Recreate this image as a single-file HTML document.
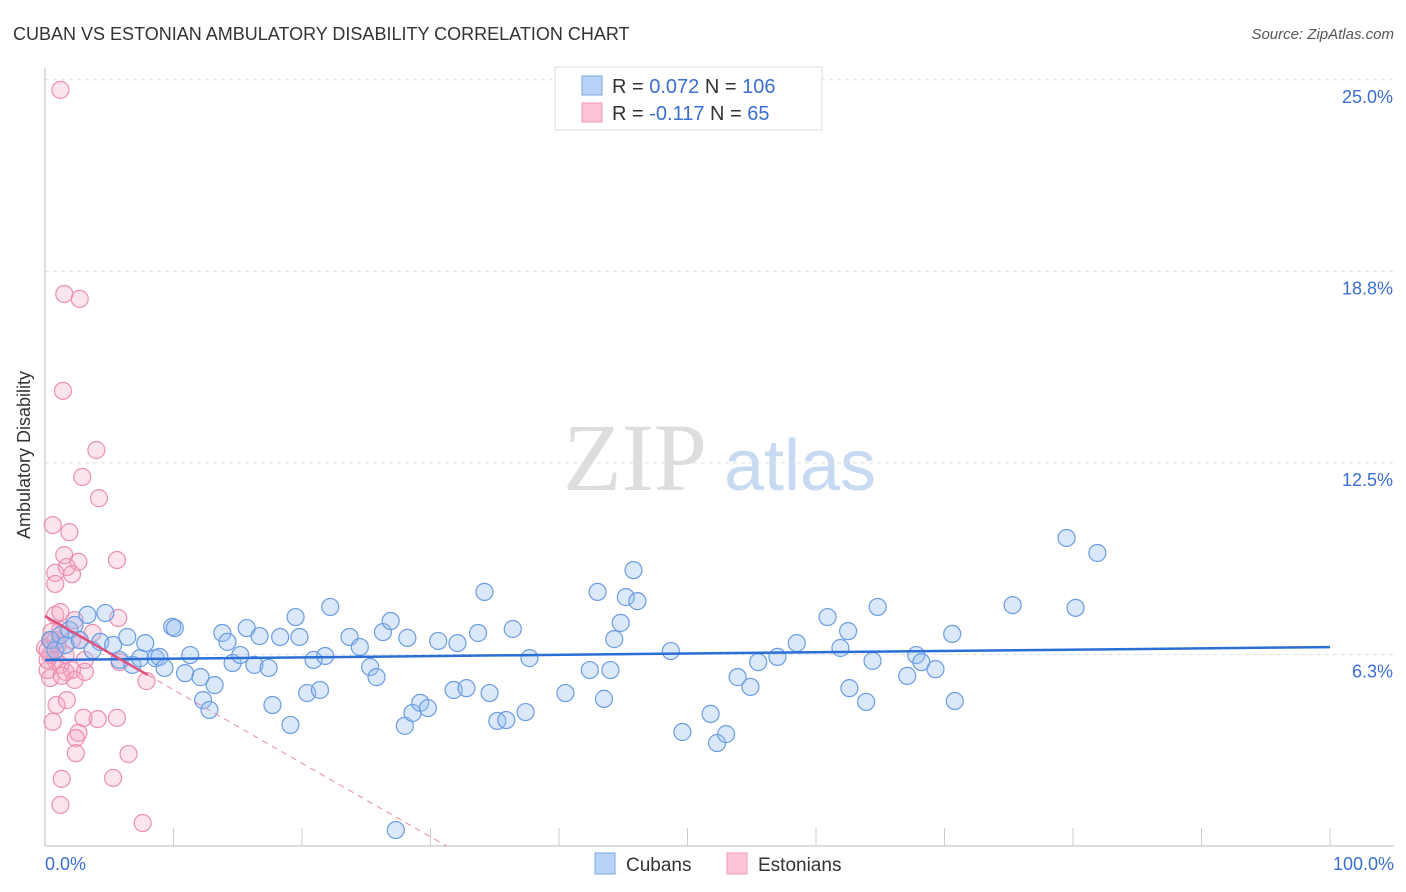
<!DOCTYPE html>
<html><head><meta charset="utf-8"><style>
body{margin:0;background:#fff;font-family:"Liberation Sans",sans-serif}
svg{display:block}
</style></head><body>
<svg id="chart" width="1406" height="892" font-family="Liberation Sans, sans-serif">
<text x="13" y="40" font-size="18" fill="#333">CUBAN VS ESTONIAN AMBULATORY DISABILITY CORRELATION CHART</text>
<text x="1394" y="39" font-size="15" fill="#555" font-style="italic" text-anchor="end">Source: ZipAtlas.com</text>
<text x="30" y="455" font-size="18" fill="#333" text-anchor="middle" transform="rotate(-90 30 455)">Ambulatory Disability</text>
<g><text x="635" y="490" font-size="96" font-family="Liberation Serif, serif" fill="#ddd" text-anchor="middle">ZIP</text><text x="800" y="490" font-size="72" fill="#c8daf2" text-anchor="middle">atlas</text></g>
<g id="grid"></g><g id="axes"></g><g id="marks"></g>
<g>
<rect x="555" y="67" width="267" height="63" fill="#fff" stroke="#ddd"/>
<rect x="582" y="76" width="20" height="19" fill="#b8d3f5" stroke="#7aa8e6"/>
<rect x="582" y="103" width="20" height="19" fill="#fcc5d6" stroke="#ee9ab6"/>
<text x="612" y="93" font-size="20" fill="#333">R = <tspan fill="#3a6fd0">0.072</tspan>   N = <tspan fill="#3a6fd0">106</tspan></text>
<text x="612" y="120" font-size="20" fill="#333">R = <tspan fill="#3a6fd0">-0.117</tspan>   N =   <tspan fill="#3a6fd0">65</tspan></text>
</g>
<g>
<rect x="595" y="853" width="20" height="21" fill="#b8d3f5" stroke="#7aa8e6"/>
<text x="626" y="871" font-size="19" fill="#333">Cubans</text>
<rect x="727" y="853" width="20" height="21" fill="#fcc5d6" stroke="#ee9ab6"/>
<text x="758" y="871" font-size="19" fill="#333">Estonians</text>
</g>
</svg>
<script>
const cubX=[0.4,0.8,1.2,1.6,1.9,2.3,2.7,3.3,3.7,4.3,4.7,5.3,5.8,6.4,6.8,7.4,7.8,8.6,8.9,9.3,9.9,10.1,10.9,11.3,12.1,12.3,12.8,13.2,13.8,14.2,14.6,15.2,15.7,16.3,16.7,17.4,17.7,18.3,19.1,19.5,19.8,20.4,20.9,21.4,21.8,22.2,23.7,24.5,25.3,25.8,26.3,26.9,27.3,28.0,28.2,28.6,29.2,29.8,30.6,31.8,32.1,32.8,33.7,34.2,34.6,35.2,35.9,36.4,37.4,37.7,40.5,42.4,43.0,43.5,44.0,44.3,44.8,45.2,45.8,46.1,48.7,49.6,51.8,52.3,53.0,53.9,54.9,55.5,57.0,58.5,60.9,61.9,62.5,62.6,63.9,64.4,64.8,67.1,67.8,68.2,69.3,70.6,70.8,75.3,79.5,80.2,81.9];
const cubY=[6.72,6.39,6.88,6.56,7.05,7.21,6.72,7.54,6.39,6.66,7.60,6.56,6.07,6.82,5.91,6.13,6.62,6.13,6.17,5.81,7.15,7.11,5.64,6.23,5.51,4.76,4.44,5.25,6.95,6.66,5.97,6.23,7.11,5.91,6.85,5.81,4.60,6.82,3.95,7.47,6.82,4.99,6.07,5.09,6.20,7.80,6.82,6.49,5.84,5.51,6.98,7.34,0.52,3.92,6.79,4.34,4.67,4.50,6.69,5.09,6.62,5.15,6.95,8.29,4.99,4.08,4.11,7.08,4.37,6.13,4.99,5.74,8.29,4.80,5.74,6.75,7.28,8.12,9.00,7.99,6.36,3.72,4.31,3.36,3.65,5.51,5.19,6.00,6.17,6.62,7.47,6.46,7.01,5.15,4.70,6.04,7.80,5.55,6.23,6.00,5.77,6.92,4.73,7.86,10.05,7.77,9.56];
const estX=[1.2,1.5,2.7,1.4,4.0,2.9,4.2,0.6,1.9,1.5,2.6,5.6,0.8,1.7,2.1,0.8,0.8,1.2,2.3,5.7,0.5,1.2,0.0,0.4,0.8,0.2,1.2,1.6,2.1,3.1,2.3,2.7,3.7,2.1,3.1,5.8,7.9,0.9,1.7,0.6,3.0,4.1,5.6,2.6,2.4,2.4,1.3,6.5,5.3,1.2,7.6,0.5,0.2,1.0,0.4,1.3,0.2,0.8,1.6];
const estY=[24.67,18.01,17.85,14.85,12.92,12.04,11.35,10.47,10.24,9.49,9.27,9.33,8.91,9.10,8.87,8.55,7.54,7.63,7.37,7.44,6.98,7.05,6.46,6.23,6.07,5.74,5.91,5.68,5.74,5.68,5.42,6.72,6.95,6.72,6.07,6.00,5.38,4.60,4.76,4.05,4.18,4.14,4.18,3.69,3.52,3.03,2.19,3.00,2.22,1.34,0.75,6.72,6.39,6.56,5.48,5.55,6.07,6.72,6.23];
const yTicks=[25.0,18.8,12.5,6.3];
const yTickLabels=["25.0%","18.8%","12.5%","6.3%"];
const cubTrend=[6.07,6.49];
const estTrend=[7.5,-0.24];
const X=v=>45+v*12.85, Y=v=>846-v*30.65;
const NS="http://www.w3.org/2000/svg";
function mk(p,t,a){const e=document.createElementNS(NS,t);for(const k in a)e.setAttribute(k,a[k]);p.appendChild(e);return e;}
const grid=document.getElementById('grid'),axes=document.getElementById('axes'),marks=document.getElementById('marks');
yTicks.forEach((t,i)=>{
 const yy=Y(t===6.3?6.25:t===18.8?18.75:t);
 const l=mk(grid,'line',{x1:45,x2:1394,y1:yy,y2:yy,stroke:'#ddd','stroke-dasharray':'4,4'});
 
 
 const tx=mk(axes,'text',{x:1393,y:yy+23,'font-size':18,fill:'#3a6fd0','text-anchor':'end'});
 tx.textContent=yTickLabels[i];
 
 
});
let ax=mk(axes,'line',{x1:45,x2:45,y1:68,y2:846,stroke:'#bbb'});


ax=mk(axes,'line',{x1:45,x2:1394,y1:846,y2:846,stroke:'#bbb'});


for(let i=1;i<=10;i++){const t=mk(axes,'line',{x1:X(i*10),x2:X(i*10),y1:828,y2:846,stroke:'#ccc'});
 
 }
let xl=mk(axes,'text',{x:45,y:870,'font-size':18,fill:'#3a6fd0'});xl.textContent='0.0%';


xl=mk(axes,'text',{x:1394,y:870,'font-size':18,fill:'#3a6fd0','text-anchor':'end'});xl.textContent='100.0%';


estX.forEach((x,i)=>{const c=mk(marks,'circle',{cx:X(x),cy:Y(estY[i]),r:8.5,fill:'rgba(246,165,195,0.3)',stroke:'#eb8fb0','stroke-width':1.2});
 
 });
cubX.forEach((x,i)=>{const c=mk(marks,'circle',{cx:X(x),cy:Y(cubY[i]),r:8.5,fill:'rgba(150,190,240,0.35)',stroke:'#6b9ce2','stroke-width':1.2});
 
 });
let tl=mk(marks,'line',{x1:X(0),x2:X(100),y1:Y(cubTrend[0]),y2:Y(cubTrend[1]),stroke:'#2a6fd6','stroke-width':2.5});


const xEnd=-estTrend[0]/estTrend[1];
tl=mk(marks,'line',{x1:X(0),x2:X(8),y1:Y(estTrend[0]),y2:Y(estTrend[0]+estTrend[1]*8),stroke:'#e0507f','stroke-width':2.5});


tl=mk(marks,'line',{x1:X(8),x2:X(xEnd),y1:Y(estTrend[0]+estTrend[1]*8),y2:Y(0),stroke:'#e88aab','stroke-width':1,'stroke-dasharray':'6,5'});


</script>
</body></html>
